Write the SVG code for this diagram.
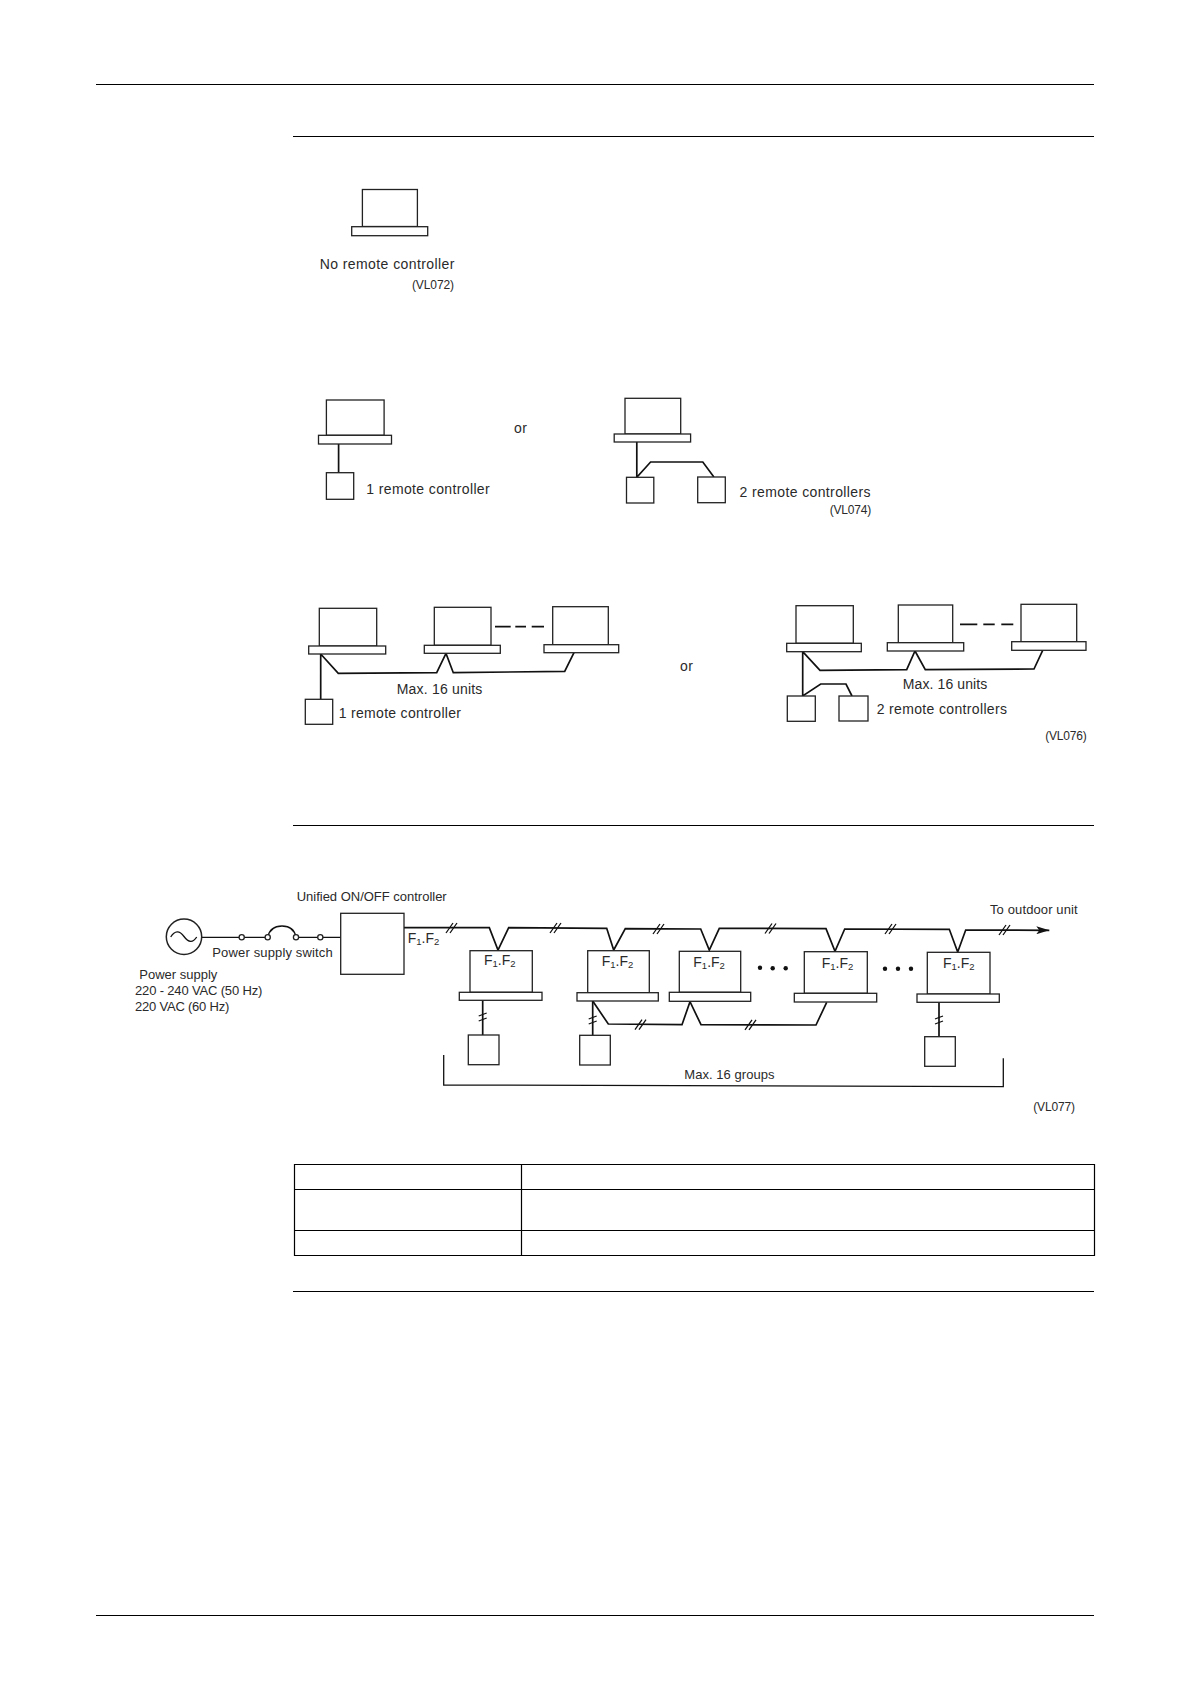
<svg xmlns="http://www.w3.org/2000/svg" xmlns:xlink="http://www.w3.org/1999/xlink" width="1190" height="1684" viewBox="0 0 1190 1684">
<style>
text{font-family:"Liberation Sans",Arial,sans-serif;fill:#2a2a2a;font-size:14px}
.s{font-size:12px}
.m{font-size:13px}
.sub{font-size:9.5px}
.b{fill:#fff;stroke:#222;stroke-width:1.3}
.w{fill:none;stroke:#111;stroke-width:1.7;stroke-linejoin:miter}
.t{fill:none;stroke:#111;stroke-width:1.3}
.r{fill:none;stroke:#000;stroke-width:1.2}
.d{fill:#111}
</style>
<defs>
<marker id="ah" markerUnits="userSpaceOnUse" markerWidth="14" markerHeight="8" refX="13" refY="4" orient="auto"><path d="M0 0L13 4L0 8L3 4Z" fill="#111"/></marker>
<g id="tt"><path class="t" d="M-8 5L-1 -5M-4 5L3 -5"/></g>
<g id="ts"><path class="t" d="M-4 -2L4 -5M-4 3L4 0"/></g>
</defs>
<g id="rules">
<path class="r" d="M96 84.5H1094M293 136.5H1094M293 825.5H1094M293 1291.5H1094M96 1615.5H1094"/>
</g>
<g id="table">
<path class="r" d="M294.5 1164.5H1094.5V1255.5H294.5ZM521.5 1164.5V1255.5M294.5 1189.5H1094.5M294.5 1230.5H1094.5"/>
</g>
<g id="connectors">
<path class="w" d="M338.6 444V472.7"/>
<path class="w" d="M636.8 442V477.3L650.6 462H702.8L713.9 477"/>
<path class="w" d="M320.7 654V699.3M320.7 654L338.3 673.3L436.7 672.7L446 653.5L453.3 672.7L564.7 671.3L574 652.7"/>
<path class="w" d="M495 626.7H510.7M515.3 626.7H526M531.7 626.7H544"/>
<path class="w" d="M802.7 651.7V696L820.7 684H846L852 696M802.7 651.7L820 670.3L906.7 669.7L915 651L925.3 669.7L1034 669L1042.7 650.3"/>
<path class="w" d="M960 624.3H977.3M983.3 624.3H994.7M1001.3 624.3H1013.3"/>
<path class="t" d="M202 937.3H267.7Q270 926 282 926T296 937.3H340.7"/>
<path class="w" marker-end="url(#ah)" d="M404 927.7H489.3L498 950L508.7 927.7L606.7 928.3L613.7 950L625.3 928.7L700.7 929L709.3 950L719.3 928.3L826 928.7L835 951.3L844.7 929L949.3 929.3L957.7 952L965.7 930L1049.3 930.3"/>
<path class="w" d="M482.7 1000.3V1035M592.7 1001V1035.3M939 1002.3V1036.7"/>
<path class="w" d="M592.7 1001L608.3 1024L682 1024.7L690 1001.7L701 1024.7L816 1025L826.7 1002.3"/>
<use xlink:href="#tt" href="#tt" x="454" y="928"/>
<use xlink:href="#tt" href="#tt" x="558" y="928"/>
<use xlink:href="#tt" href="#tt" x="661" y="929"/>
<use xlink:href="#tt" href="#tt" x="773" y="928.5"/>
<use xlink:href="#tt" href="#tt" x="893" y="929"/>
<use xlink:href="#tt" href="#tt" x="1007" y="930"/>
<use xlink:href="#tt" href="#tt" x="643" y="1024.7"/>
<use xlink:href="#tt" href="#tt" x="753" y="1024.8"/>
<use xlink:href="#ts" href="#ts" x="482.7" y="1018"/>
<use xlink:href="#ts" href="#ts" x="592.7" y="1021"/>
<use xlink:href="#ts" href="#ts" x="939" y="1021"/>
<path class="t" d="M443.7 1055V1085L1003.3 1086.7V1058.3"/>
</g>
<g id="unit-a"><rect class="b" x="362.4" y="189.5" width="55" height="37"/><rect class="b" x="351.7" y="226.7" width="76" height="9"/></g>
<g id="unit-b1"><rect class="b" x="326.4" y="400" width="57.7" height="35.3"/><rect class="b" x="318.5" y="435.3" width="73" height="8.7"/></g>
<g id="rc-b1"><rect class="b" x="326.4" y="472.7" width="27.3" height="26.6"/></g>
<g id="unit-b2"><rect class="b" x="625" y="398.3" width="55.7" height="35.7"/><rect class="b" x="614.2" y="434" width="76.4" height="8"/></g>
<g id="rc-b2a"><rect class="b" x="626.5" y="477.3" width="27.3" height="25.7"/></g>
<g id="rc-b2b"><rect class="b" x="697.7" y="477" width="27.6" height="25.7"/></g>
<g id="unit-c1"><rect class="b" x="319.3" y="608.3" width="57.4" height="37.7"/><rect class="b" x="308.7" y="646" width="77" height="8"/></g>
<g id="unit-c2"><rect class="b" x="434.3" y="607.3" width="56.7" height="38"/><rect class="b" x="424.3" y="645.3" width="76" height="8"/></g>
<g id="unit-c3"><rect class="b" x="552.7" y="606.7" width="55.6" height="38"/><rect class="b" x="544" y="644.7" width="74.7" height="8"/></g>
<g id="rc-c1"><rect class="b" x="305.3" y="699.3" width="27.4" height="25"/></g>
<g id="unit-d1"><rect class="b" x="796" y="605.7" width="57.3" height="37.6"/><rect class="b" x="786.7" y="643.3" width="74.6" height="8.4"/></g>
<g id="unit-d2"><rect class="b" x="898.3" y="605" width="54.4" height="37.7"/><rect class="b" x="887.3" y="642.7" width="76.4" height="8.3"/></g>
<g id="unit-d3"><rect class="b" x="1021" y="604.3" width="55.7" height="37.4"/><rect class="b" x="1011.7" y="641.7" width="74.3" height="8.6"/></g>
<g id="rc-d1"><rect class="b" x="787.3" y="696" width="28" height="25.3"/></g>
<g id="rc-d2"><rect class="b" x="839" y="696" width="29" height="25"/></g>
<g id="power-supply">
<circle cx="184" cy="936.7" r="17.7" fill="#fff" stroke="#222" stroke-width="1.5"/>
<path class="t" d="M170.7 937Q177 927 184 936.5T196.7 937"/>
</g>
<g id="switch">
<circle class="b" cx="241.7" cy="937.3" r="2.6"/><circle class="b" cx="267.7" cy="937.3" r="2.6"/><circle class="b" cx="296" cy="937.3" r="2.6"/><circle class="b" cx="320.3" cy="937.3" r="2.6"/>
</g>
<g id="controller"><rect class="b" x="340.7" y="913.3" width="63.3" height="61"/></g>
<g id="group-1"><rect class="b" x="470" y="950.7" width="62.3" height="41.6"/><rect class="b" x="459.3" y="992.3" width="82.7" height="8"/>
<text x="484" y="965.3">F<tspan class="sub" dy="2">1</tspan><tspan dy="-2">.F</tspan><tspan class="sub" dy="2">2</tspan></text></g>
<g id="rc-1"><rect class="b" x="468.3" y="1035" width="30.7" height="29.7"/></g>
<g id="group-2"><rect class="b" x="587.7" y="950.7" width="61.6" height="42"/><rect class="b" x="577" y="992.7" width="81.3" height="8.3"/>
<text x="601.7" y="966">F<tspan class="sub" dy="2">1</tspan><tspan dy="-2">.F</tspan><tspan class="sub" dy="2">2</tspan></text></g>
<g id="rc-2"><rect class="b" x="579.7" y="1035.3" width="30.6" height="29.7"/></g>
<g id="group-3"><rect class="b" x="679.3" y="951.3" width="61.4" height="41"/><rect class="b" x="669.3" y="992.3" width="81.4" height="9"/>
<text x="693.3" y="967.3">F<tspan class="sub" dy="2">1</tspan><tspan dy="-2">.F</tspan><tspan class="sub" dy="2">2</tspan></text></g>
<g id="group-4"><rect class="b" x="804.3" y="951.7" width="63" height="41.6"/><rect class="b" x="794.3" y="993.3" width="82.4" height="8.7"/>
<text x="821.7" y="968">F<tspan class="sub" dy="2">1</tspan><tspan dy="-2">.F</tspan><tspan class="sub" dy="2">2</tspan></text></g>
<g id="group-5"><rect class="b" x="927.3" y="952.3" width="62.7" height="41.7"/><rect class="b" x="917" y="994" width="82.3" height="8.3"/>
<text x="943" y="968">F<tspan class="sub" dy="2">1</tspan><tspan dy="-2">.F</tspan><tspan class="sub" dy="2">2</tspan></text></g>
<g id="rc-5"><rect class="b" x="924.7" y="1036.7" width="30.6" height="29.6"/></g>
<g id="dots">
<circle class="d" cx="760" cy="967.7" r="2.2"/><circle class="d" cx="772.7" cy="968.3" r="2.2"/><circle class="d" cx="785.7" cy="968.3" r="2.2"/>
<circle class="d" cx="885" cy="968.7" r="2.2"/><circle class="d" cx="898" cy="968.7" r="2.2"/><circle class="d" cx="911" cy="968.7" r="2.2"/>
</g>
<g id="labels">
<text x="319.7" y="269" textLength="134.8" lengthAdjust="spacing">No remote controller</text>
<text class="s" x="412" y="289" textLength="42" lengthAdjust="spacing">(VL072)</text>
<text x="366.3" y="494" textLength="123.4" lengthAdjust="spacing">1 remote controller</text>
<text x="514" y="433" textLength="13" lengthAdjust="spacing">or</text>
<text x="739.6" y="497" textLength="130.9" lengthAdjust="spacing">2 remote controllers</text>
<text class="s" x="829.7" y="514" textLength="41.6" lengthAdjust="spacing">(VL074)</text>
<text x="396.7" y="694" textLength="85.6" lengthAdjust="spacing">Max. 16 units</text>
<text x="338.7" y="718" textLength="122.3" lengthAdjust="spacing">1 remote controller</text>
<text x="680" y="671" textLength="13" lengthAdjust="spacing">or</text>
<text x="902.7" y="688.5" textLength="84.6" lengthAdjust="spacing">Max. 16 units</text>
<text x="876.7" y="714" textLength="130.3" lengthAdjust="spacing">2 remote controllers</text>
<text class="s" x="1045.3" y="740" textLength="41.4" lengthAdjust="spacing">(VL076)</text>
<text class="m" x="296.7" y="900.5" textLength="150" lengthAdjust="spacing">Unified ON/OFF controller</text>
<text class="m" x="212.3" y="957" textLength="120.4" lengthAdjust="spacing">Power supply switch</text>
<text class="m" x="139.3" y="979" textLength="78" lengthAdjust="spacing">Power supply</text>
<text class="m" x="135" y="994.5" textLength="127.3" lengthAdjust="spacing">220 - 240 VAC (50 Hz)</text>
<text class="m" x="135" y="1010.5" textLength="94.3" lengthAdjust="spacing">220 VAC (60 Hz)</text>
<text x="407.7" y="943.3">F<tspan class="sub" dy="2">1</tspan><tspan dy="-2">.F</tspan><tspan class="sub" dy="2">2</tspan></text>
<text class="m" x="990" y="913.5" textLength="87.7" lengthAdjust="spacing">To outdoor unit</text>
<text class="m" x="684.3" y="1078.5" textLength="90.2" lengthAdjust="spacing">Max. 16 groups</text>
<text class="s" x="1033.3" y="1111" textLength="41.7" lengthAdjust="spacing">(VL077)</text>
</g>
</svg>
